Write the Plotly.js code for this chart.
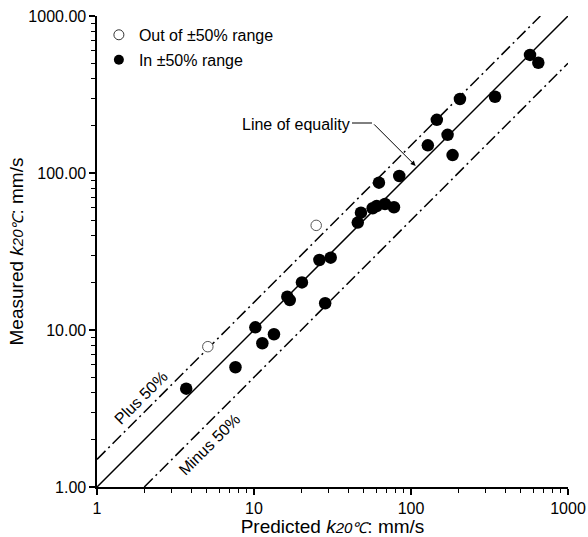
<!DOCTYPE html>
<html>
<head>
<meta charset="utf-8">
<script src="https://cdn.plot.ly/plotly-3.0.1.min.js"></script>
<style>html,body{margin:0;padding:0;background:#fff;}#chart{width:588px;height:537px;}</style>
</head>
<body>
<div id="chart"></div>
<script>
// Points within ±50% range (predicted, measured), mm/s
const inPredicted = [3.70, 7.62, 10.2, 11.3, 13.4, 16.3, 16.9, 20.2, 26.1, 30.8, 28.4,
  45.8, 48.0, 57.0, 60.5, 68.3, 77.9, 62.5, 84.2, 128, 146, 171, 184, 205, 343, 573, 647];
const inMeasured = [4.23, 5.79, 10.4, 8.23, 9.39, 16.3, 15.5, 20.1, 27.9, 28.9, 14.8,
  48.3, 55.9, 59.6, 61.6, 63.5, 60.5, 86.8, 95.7, 150, 218, 175, 130, 296, 306, 565, 504];
// Points out of ±50% range
const outPredicted = [5.08, 24.9];
const outMeasured = [7.83, 46.4];
// Reference lines
const equalityX = [1, 1000];
const equalityY = [1, 1000];
const plusX = [1, 666.7];
const plusY = [1.5, 1000];
const minusX = [2, 1000];
const minusY = [1, 500];
const xTickVals = [1, 10, 100, 1000];
const xTickText = ['1', '10', '100', '1000'];
const yTickVals = [1, 10, 100, 1000];
const yTickText = ['1.00', '10.00', '100.00', '1000.00'];
const minorVals = [2,3,4,5,6,7,8,9,20,30,40,50,60,70,80,90,200,300,400,500,600,700,800,900];

const FONT = 'Arial, "Liberation Sans", sans-serif';
const dashDot = '12px,4px,2px,4px';

const traces = [
  {x: equalityX, y: equalityY, mode: 'lines', line: {color: '#000', width: 1.5}, showlegend: false, hoverinfo: 'skip'},
  {x: plusX, y: plusY, mode: 'lines', line: {color: '#000', width: 1.5, dash: dashDot}, showlegend: false, hoverinfo: 'skip'},
  {x: minusX, y: minusY, mode: 'lines', line: {color: '#000', width: 1.5, dash: dashDot}, showlegend: false, hoverinfo: 'skip'},
  {x: inPredicted, y: inMeasured, mode: 'markers', name: 'In ±50% range', showlegend: false,
   marker: {color: '#000', size: 12.5, line: {width: 0}}},
  {x: outPredicted, y: outMeasured, mode: 'markers', name: 'Out of ±50% range', showlegend: false,
   marker: {color: '#fff', size: 10.5, line: {color: '#555', width: 1}}},
  // legend entries
  {x: [null], y: [null], mode: 'markers', name: 'Out of ±50% range', legend: 'legend',
   marker: {color: '#fff', size: 10, line: {color: '#333', width: 1}}},
  {x: [null], y: [null], mode: 'markers', name: 'In ±50% range', legend: 'legend2',
   marker: {color: '#000', size: 10}}
];

const axisCommon = {
  type: 'log', showgrid: false, zeroline: false, showline: true, linecolor: '#000', linewidth: 1.6,
  ticks: 'outside', ticklen: 6, tickwidth: 1.2, tickcolor: '#000',
  tickfont: {family: FONT, size: 16, color: '#000'},
  minor: {tickvals: minorVals, ticks: 'outside', ticklen: 4, tickwidth: 1, tickcolor: '#000'},
  range: [0, 3], fixedrange: true
};

const layout = {
  width: 588, height: 537,
  margin: {l: 97, r: 20, t: 16, b: 50},
  paper_bgcolor: '#fff', plot_bgcolor: '#fff',
  font: {family: FONT, color: '#000', size: 16},
  xaxis: Object.assign({}, axisCommon, {
    tickmode: 'array', tickvals: xTickVals, ticktext: xTickText,
    title: {text: 'Predicted <i>k</i><i><span style="font-size:15px">20℃</span></i>: mm/s', font: {family: FONT, size: 19, color: '#000'}, standoff: 0}
  }),
  yaxis: Object.assign({}, axisCommon, {
    tickmode: 'array', tickvals: yTickVals, ticktext: yTickText,
    title: {text: 'Measured <i>k</i><i><span style="font-size:15px">20℃</span></i>: mm/s', font: {family: FONT, size: 19, color: '#000'}, standoff: 0}
  }),
  legend: {x: 0.004, y: 0.996, xanchor: 'left', yanchor: 'top', bgcolor: 'rgba(0,0,0,0)',
    font: {family: FONT, size: 16, color: '#000'}, itemwidth: 30},
  legend2: {x: 0.004, y: 0.943, xanchor: 'left', yanchor: 'top', bgcolor: 'rgba(0,0,0,0)',
    font: {family: FONT, size: 16, color: '#000'}, itemwidth: 30},
  shapes: [
    {type: 'line', xref: 'paper', yref: 'paper', x0: (352-97)/471, x1: (372-97)/471,
     y0: 1-(123-16)/471, y1: 1-(123-16)/471, line: {color: '#000', width: 1}}
  ],
  annotations: [
    {x: 1.621, y: 2.306, xref: 'x', yref: 'y', text: 'Line of equality', showarrow: false,
     xanchor: 'right', yanchor: 'middle', font: {family: FONT, size: 16, color: '#000'}},
    {x: Math.log10(107), y: Math.log10(111), xref: 'x', yref: 'y', text: '', showarrow: true,
     ax: -43, ay: -43, arrowhead: 2, arrowsize: 1, arrowwidth: 1, arrowcolor: '#000', standoff: 0},
    {x: 0.2815, y: 0.57, xref: 'x', yref: 'y', text: 'Plus 50%', showarrow: false, textangle: -45,
     font: {family: FONT, size: 16, color: '#000'}},
    {x: 0.7166, y: 0.27, xref: 'x', yref: 'y', text: 'Minus 50%', showarrow: false, textangle: -45,
     font: {family: FONT, size: 16, color: '#000'}}
  ]
};

Plotly.newPlot('chart', traces, layout, {displayModeBar: false, staticPlot: true});
</script>
</body>
</html>
